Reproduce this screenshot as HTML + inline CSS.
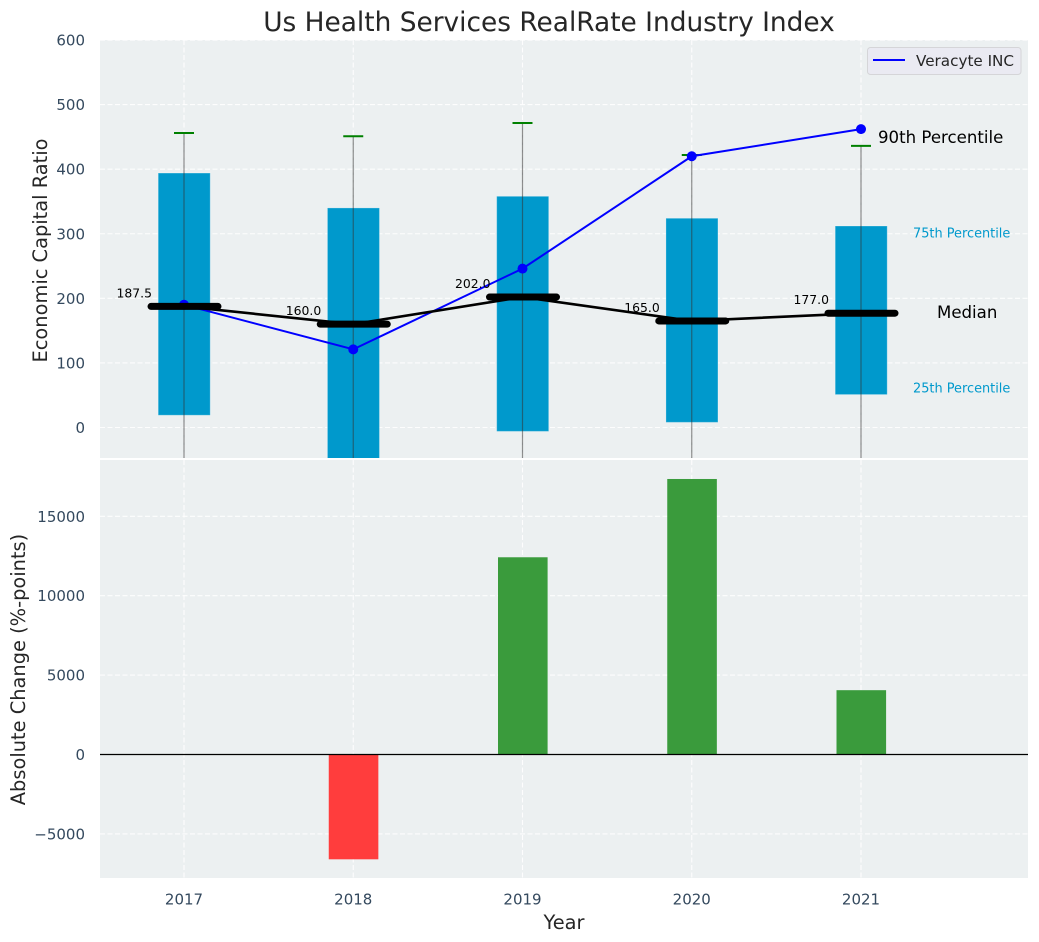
<!DOCTYPE html>
<html>
<head>
<meta charset="utf-8">
<title>Us Health Services RealRate Industry Index</title>
<style>
html,body{margin:0;padding:0;background:#fff;width:1039px;height:942px;overflow:hidden}
svg{display:block;font-family:"DejaVu Sans","Liberation Sans",sans-serif}
</style>
</head>
<body>
<svg id="chart" xmlns="http://www.w3.org/2000/svg" width="1039" height="942" viewBox="0 0 1039 942">
  <defs>
    <clipPath id="clip-top"><rect x="100" y="40" width="928" height="418"/></clipPath>
    <clipPath id="clip-bottom"><rect x="100" y="460" width="928" height="418"/></clipPath>
  </defs>
  <text x="549" y="31" font-size="26.4" fill="#262626" text-anchor="middle">Us Health Services RealRate Industry Index</text>
  <rect x="100" y="40" width="928" height="418" fill="#ecf0f1"/>
  <rect x="100" y="460" width="928" height="418" fill="#ecf0f1"/>
  <g id="top-grid"></g>
  <g id="bottom-grid"></g>
  <g id="top-marks" clip-path="url(#clip-top)"></g>
  <g id="bottom-marks" clip-path="url(#clip-bottom)"></g>
  <g id="axis-labels"></g>
  <text transform="translate(47 250.5) rotate(-90)" font-size="19.4" fill="#262626" text-anchor="middle">Economic Capital Ratio</text>
  <text transform="translate(25 669.5) rotate(-90)" font-size="19.4" fill="#262626" text-anchor="middle">Absolute Change (%-points)</text>
  <text x="564" y="929" font-size="19.4" fill="#262626" text-anchor="middle">Year</text>
  <text x="878" y="143" font-size="16.6" fill="#000">90th Percentile</text>
  <text x="913" y="237.5" font-size="12.9" fill="#0099cc">75th Percentile</text>
  <text x="937" y="318" font-size="16.6" fill="#000">Median</text>
  <text x="913" y="392.5" font-size="12.9" fill="#0099cc">25th Percentile</text>
  <g>
    <rect x="867.5" y="47.5" width="153.5" height="27" rx="3" fill="#eaeaf2" stroke="#d5d5d8"/>
    <line x1="873" y1="60" x2="905" y2="60" stroke="#0000ff" stroke-width="2"/>
    <text x="916" y="66" font-size="15.2" fill="#262626">Veracyte INC</text>
  </g>
</svg>
<script>
const years = [2017, 2018, 2019, 2020, 2021];
const p25 = [19, -60, -6, 8, 51];
const p75 = [394, 340, 358, 324, 312];
const p10 = [-100, -100, -100, -100, -100];
const p90 = [456, 451, 471.5, 422, 436];
const medians = [187.5, 160, 202, 165, 177];
const company = [190, 121, 246, 420, 462];
const changes = [0, -6600, 12420, 17350, 4050];
const topTicks = [0, 100, 200, 300, 400, 500, 600];
const bottomTicks = [-5000, 0, 5000, 10000, 15000];

const NS = 'http://www.w3.org/2000/svg';
const xAxis = v => 184 + (v - 2017) * 169.25;
const yTop = v => 427.5 - v * 0.6458;
const yBottom = v => 754.5 - v * 0.01588;

function make(parent, tag, attrs, text) {
  const el = document.createElementNS(NS, tag);
  for (const k in attrs) el.setAttribute(k, attrs[k]);
  if (text !== undefined) el.textContent = text;
  parent.appendChild(el);
  return el;
}

const gridTop = document.getElementById('top-grid');
const gridBottom = document.getElementById('bottom-grid');
const marksTop = document.getElementById('top-marks');
const marksBottom = document.getElementById('bottom-marks');
const labels = document.getElementById('axis-labels');
const gridStyle = {stroke: '#ffffff', 'stroke-width': 1.1, 'stroke-dasharray': '5 2.5', opacity: 0.9};

topTicks.forEach(t => {
  const g = make(gridTop, 'line', Object.assign({x1: 100, x2: 1028, y1: yTop(t), y2: yTop(t)}, gridStyle));
  
  
  const l = make(labels, 'text', {x: 85, y: yTop(t) + 5.5, 'font-size': 15, fill: '#34495e', 'text-anchor': 'end'}, String(t));
  
  
});

bottomTicks.forEach(t => {
  const g = make(gridBottom, 'line', Object.assign({x1: 100, x2: 1028, y1: yBottom(t), y2: yBottom(t)}, gridStyle));
  
  
  const text = t < 0 ? '\u2212' + Math.abs(t) : String(t);
  const l = make(labels, 'text', {x: 85, y: yBottom(t) + 5.5, 'font-size': 15, fill: '#34495e', 'text-anchor': 'end'}, text);
  
  
});

years.forEach(y => {
  const a = make(gridTop, 'line', Object.assign({x1: xAxis(y), x2: xAxis(y), y1: 40, y2: 458}, gridStyle));
  
  
  const b = make(gridBottom, 'line', Object.assign({x1: xAxis(y), x2: xAxis(y), y1: 460, y2: 878}, gridStyle));
  
  
  const l = make(labels, 'text', {x: xAxis(y), y: 904.5, 'font-size': 15, fill: '#34495e', 'text-anchor': 'middle'}, String(y));
  
  
});

years.forEach((y, i) => {
  const x = xAxis(y);
  const box = make(marksTop, 'rect', {x: x - 25.8, width: 52, y: yTop(p75[i]), height: yTop(p25[i]) - yTop(p75[i]), fill: '#0099cc', stroke: '#ffffff', 'stroke-opacity': 0.25, 'stroke-width': 1});
  
  
});

years.forEach((y, i) => {
  const x = xAxis(y);
  const w = make(marksTop, 'line', {x1: x, x2: x, y1: yTop(p90[i]), y2: yTop(p10[i]), stroke: '#333333', 'stroke-opacity': 0.55, 'stroke-width': 1.2});
  
  
  const cap = make(marksTop, 'line', {x1: x - 10, x2: x + 10, y1: yTop(p90[i]), y2: yTop(p90[i]), stroke: '#008000', 'stroke-width': 2});
  
  
});

const companyLine = make(marksTop, 'polyline', {points: years.map((y, i) => xAxis(y) + ',' + yTop(company[i])).join(' '), fill: 'none', stroke: '#0000ff', 'stroke-width': 2});


years.forEach((y, i) => {
  const c = make(marksTop, 'circle', {cx: xAxis(y), cy: yTop(company[i]), r: 5, fill: '#0000ff'});
  
  
});

const medianLine = make(marksTop, 'polyline', {points: years.map((y, i) => xAxis(y) + ',' + yTop(medians[i])).join(' '), fill: 'none', stroke: '#000000', 'stroke-width': 2.6});


years.forEach((y, i) => {
  const x = xAxis(y);
  const m = make(marksTop, 'line', {x1: x - 33, x2: x + 34, y1: yTop(medians[i]), y2: yTop(medians[i]), stroke: '#000000', 'stroke-width': 7, 'stroke-linecap': 'round'});
  
  
  const t = make(marksTop, 'text', {x: x - 32, y: yTop(medians[i]) - 9, 'font-size': 12.4, fill: '#000000', 'text-anchor': 'end'}, medians[i].toFixed(1));
  
  
});

years.forEach((y, i) => {
  if (changes[i] === 0) return;
  const x = xAxis(y);
  const top = Math.min(yBottom(changes[i]), yBottom(0));
  const h = Math.abs(yBottom(changes[i]) - yBottom(0));
  const b = make(marksBottom, 'rect', {x: x - 24.5, width: 49.6, y: top, height: h, fill: changes[i] < 0 ? '#ff3d3d' : '#3a9b3c'});
  
  
});

const zero = make(marksBottom, 'line', {x1: 100, x2: 1028, y1: yBottom(0), y2: yBottom(0), stroke: '#000000', 'stroke-width': 1.3});


</script>
</body>
</html>
